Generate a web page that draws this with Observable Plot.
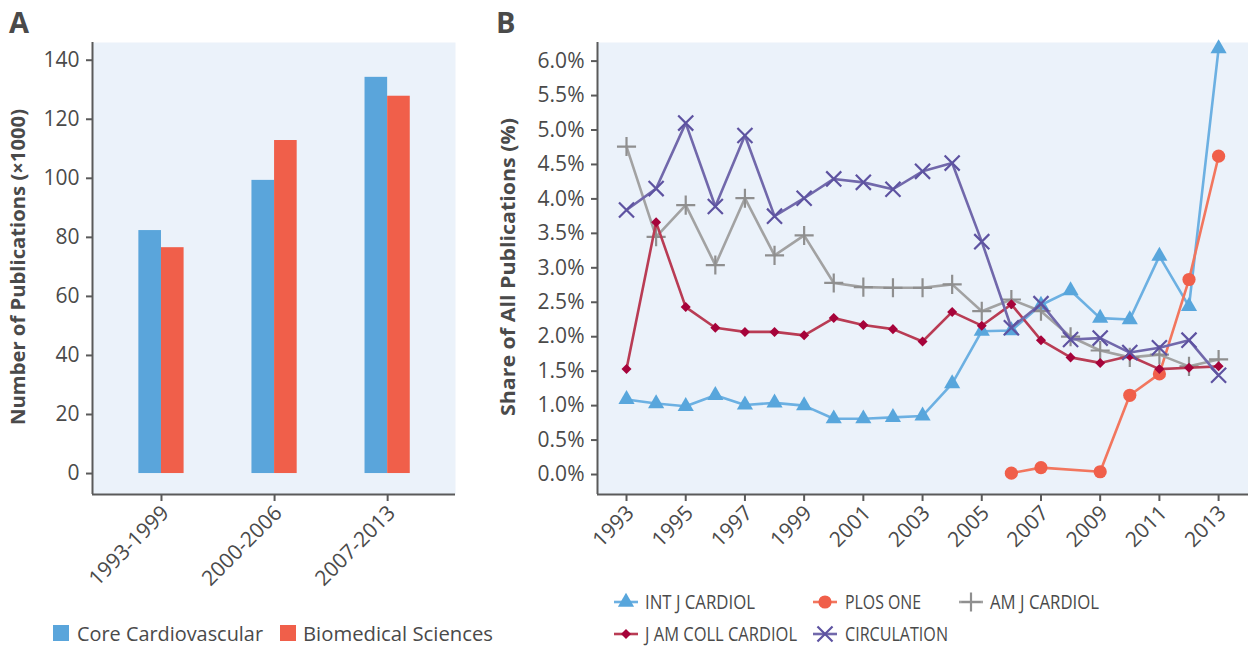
<!DOCTYPE html>
<html>
<head>
<meta charset="utf-8">
<script src="https://cdn.jsdelivr.net/npm/d3@7"></script>
<script src="https://cdn.jsdelivr.net/npm/@observablehq/plot@0.6"></script>
<style>
  body { margin: 0; background: #fff; }
  #wrap { position: relative; width: 1248px; height: 647px; overflow: hidden; font-family: "Open Sans", sans-serif; }
  #panelA, #panelB, #overlay { position: absolute; top: 0; }
  #panelA { left: 0; }
  #panelB { left: 490px; }
  #overlay { left: 0; pointer-events: none; }
</style>
</head>
<body>
<div id="wrap">
  <div id="panelA"></div>
  <div id="panelB"></div>
  <div id="overlay"></div>
</div>
<script>
// ---------- Panel A data ----------
const periods = ["1993-1999", "2000-2006", "2007-2013"];
const coreCardiovascular = [82.3, 99.3, 134.2];
const biomedicalSciences = [76.5, 112.8, 127.8];
const barSeries = ["Core Cardiovascular", "Biomedical Sciences"];
const barColors = ["#5AA5DB", "#F05F4A"];
const ticksA = [0, 20, 40, 60, 80, 100, 120, 140];

// ---------- Panel B data ----------
const years = [1993, 1994, 1995, 1996, 1997, 1998, 1999, 2000, 2001, 2002, 2003,
               2004, 2005, 2006, 2007, 2008, 2009, 2010, 2011, 2012, 2013];
const intJCardiol    = [1.09, 1.03, 0.99, 1.15, 1.01, 1.04, 1.00, 0.81, 0.81, 0.83, 0.85,
                        1.32, 2.08, 2.09, 2.46, 2.67, 2.27, 2.25, 3.17, 2.44, 6.18];
const plosOne        = [null, null, null, null, null, null, null, null, null, null, null,
                        null, null, 0.02, 0.10, null, 0.04, 1.15, 1.46, 2.83, 4.62];
const amJCardiol     = [4.76, 3.45, 3.91, 3.04, 4.01, 3.18, 3.47, 2.78, 2.72, 2.71, 2.71,
                        2.76, 2.37, 2.54, 2.37, 2.00, 1.80, 1.70, 1.74, 1.57, 1.67];
const jAmCollCardiol = [1.53, 3.66, 2.43, 2.13, 2.07, 2.07, 2.02, 2.27, 2.17, 2.11, 1.93,
                        2.36, 2.16, 2.47, 1.95, 1.70, 1.62, 1.72, 1.53, 1.55, 1.57];
const circulation    = [3.84, 4.15, 5.10, 3.89, 4.92, 3.75, 4.01, 4.29, 4.24, 4.14, 4.40,
                        4.52, 3.38, 2.13, 2.48, 1.96, 1.98, 1.77, 1.84, 1.95, 1.44];
const ticksBy = [0, 0.5, 1, 1.5, 2, 2.5, 3, 3.5, 4, 4.5, 5, 5.5, 6];
const ticksBx = [1993, 1995, 1997, 1999, 2001, 2003, 2005, 2007, 2009, 2011, 2013];

const journals = [
  {name: "INT J CARDIOL",     values: intJCardiol,    symbol: "triangle", r: 6,   fill: "#58A6DC", line: "#6CB0E2", strokeSym: false},
  {name: "PLOS ONE",          values: plosOne,        symbol: "circle",   r: 6.6, fill: "#F05F4A", line: "#F2765E", strokeSym: false},
  {name: "AM J CARDIOL",      values: amJCardiol,     symbol: "plus",     r: 6.2, fill: "#8F8F8F", line: "#A2A2A2", strokeSym: true},
  {name: "J AM COLL CARDIOL", values: jAmCollCardiol, symbol: "square",   r: 4,   fill: "#A6033A", line: "#B93C54", strokeSym: false, rotate: 45},
  {name: "CIRCULATION",       values: circulation,    symbol: "times",    r: 6.9, fill: "#5E53A1", line: "#7168AB", strokeSym: true}
];

const textColor = "#4A4A4A";
const axisColor = "#5A5A5A";
const bg = "#EBF2FA";

// shared bottom-axis helper: tick marks, then rotated labels nudged like the reference
function bottomAxis(ticks, fmt) {
  return [
    Plot.axisX({ticks, tickFormat: () => "", tickSize: 7, strokeWidth: 2, stroke: axisColor, label: null}),
    Plot.axisX({ticks, tickFormat: fmt, tickSize: 0, tickPadding: 11, tickRotate: -45, dx: 4, dy: 4, label: null, fill: textColor})
  ];
}

// ---------- Panel A ----------
const barRows = periods.flatMap((p, i) => [
  {i, period: p, series: barSeries[0], value: coreCardiovascular[i]},
  {i, period: p, series: barSeries[1], value: biomedicalSciences[i]}
]);
const xDomA = [-0.61, 2.6];
const yDomA = [-7.1, 146];
const barW = 0.2;

const plotA = Plot.plot({
  width: 480, height: 585,
  marginLeft: 92, marginRight: 25, marginTop: 42, marginBottom: 91,
  style: {fontFamily: "Open Sans, sans-serif", fontSize: "21px", color: textColor, background: "transparent", overflow: "visible"},
  x: {domain: xDomA},
  y: {domain: yDomA},
  color: {domain: barSeries, range: barColors},
  marks: [
    Plot.frame({fill: bg, stroke: null}),
    Plot.rectY(barRows, {
      x1: d => d.series === barSeries[0] ? d.i - barW : d.i,
      x2: d => d.series === barSeries[0] ? d.i : d.i + barW,
      y1: 0, y2: "value", fill: "series"
    }),
    Plot.ruleX([xDomA[0]], {stroke: axisColor, strokeWidth: 2}),
    Plot.ruleY([yDomA[0]], {stroke: axisColor, strokeWidth: 2}),
    Plot.axisY({ticks: ticksA, tickSize: 6, tickPadding: 7, strokeWidth: 2, stroke: axisColor, label: null, fill: textColor}),
    ...bottomAxis([0, 1, 2], i => periods[i])
  ]
});
document.getElementById("panelA").appendChild(plotA);

// ---------- Panel B ----------
const xDomB = [1992.02, 2014.01];
const yDomB = [-0.29, 6.27];
const marksB = [
  Plot.frame({fill: bg, stroke: null}),
  Plot.ruleX([xDomB[0]], {stroke: axisColor, strokeWidth: 2}),
  Plot.ruleY([yDomB[0]], {stroke: axisColor, strokeWidth: 2}),
  Plot.axisY({ticks: ticksBy, tickFormat: d => d.toFixed(1) + "%", tickSize: 6, tickPadding: 7, strokeWidth: 2, stroke: axisColor, label: null, fill: textColor}),
  ...bottomAxis(ticksBx, d => String(d))
];
for (const j of journals) {
  const rows = years.map((y, k) => ({year: y, value: j.values[k]})).filter(d => d.value != null);
  marksB.push(Plot.line(rows, {x: "year", y: "value", stroke: j.line, strokeWidth: 2.6}));
  const dotOpts = {x: "year", y: "value", symbol: () => j.symbol, r: j.r};
  if (j.strokeSym) { dotOpts.stroke = j.fill; dotOpts.strokeWidth = 2.2; dotOpts.fill = "none"; }
  else { dotOpts.fill = j.fill; dotOpts.stroke = "none"; }
  if (j.rotate) dotOpts.rotate = j.rotate;
  marksB.push(Plot.dot(rows, dotOpts));
}
const plotB = Plot.plot({
  width: 758, height: 585,
  marginLeft: 107, marginRight: 0, marginTop: 42, marginBottom: 91,
  style: {fontFamily: "Open Sans, sans-serif", fontSize: "21px", color: textColor, background: "transparent", overflow: "visible"},
  x: {domain: xDomB},
  y: {domain: yDomB},
  symbol: {type: "identity"},
  marks: marksB
});
document.getElementById("panelB").appendChild(plotB);

// ---------- Overlay: panel letters, axis titles, legends ----------
const svg = d3.select("#overlay").append("svg")
  .attr("width", 1248).attr("height", 647)
  .style("font-family", "Open Sans, sans-serif");

svg.append("text").attr("x", 9).attr("y", 33).attr("font-size", 29).attr("font-weight", 700).attr("fill", textColor).text("A");
svg.append("text").attr("x", 496).attr("y", 33).attr("font-size", 29).attr("font-weight", 700).attr("fill", textColor).text("B");

svg.append("text").attr("transform", "translate(24.5,267) rotate(-90)").attr("text-anchor", "middle")
  .attr("font-size", 19.5).attr("font-weight", 700).attr("fill", textColor)
  .attr("textLength", 316).attr("lengthAdjust", "spacingAndGlyphs").text("Number of Publications (×1000)");
svg.append("text").attr("transform", "translate(515,267) rotate(-90)").attr("text-anchor", "middle")
  .attr("font-size", 19.5).attr("font-weight", 700).attr("fill", textColor)
  .attr("textLength", 298).attr("lengthAdjust", "spacingAndGlyphs").text("Share of All Publications (%)");

// Legend A
const legA = [{x: 53, tx: 77, w: 186}, {x: 280, tx: 303, w: 190}];
barSeries.forEach((s, k) => {
  svg.append("rect").attr("x", legA[k].x).attr("y", 625).attr("width", 16).attr("height", 16).attr("fill", barColors[k]);
  svg.append("text").attr("x", legA[k].tx).attr("y", 641).attr("font-size", 20).attr("fill", textColor)
    .attr("textLength", legA[k].w).attr("lengthAdjust", "spacingAndGlyphs").text(s);
});

// Legend B
const legB = [
  {x: 614, y: 602, tx: 645, w: 110},
  {x: 813, y: 602, tx: 845, w: 76},
  {x: 959, y: 602, tx: 990, w: 109},
  {x: 614, y: 634, tx: 645, w: 152},
  {x: 813, y: 634, tx: 845, w: 103}
];
const symMap = {triangle: d3.symbolTriangle, circle: d3.symbolCircle, plus: d3.symbolPlus, square: d3.symbolSquare, times: d3.symbolTimes};
journals.forEach((j, k) => {
  const p = legB[k];
  const g = svg.append("g");
  g.append("line").attr("x1", p.x).attr("x2", p.x + 24).attr("y1", p.y).attr("y2", p.y)
    .attr("stroke", j.line).attr("stroke-width", 2.6);
  const path = d3.symbol(symMap[j.symbol], Math.PI * j.r * j.r)();
  const sym = g.append("path").attr("d", path)
    .attr("transform", `translate(${p.x + 12},${p.y})` + (j.rotate ? ` rotate(${j.rotate})` : ""));
  if (j.strokeSym) sym.attr("fill", "none").attr("stroke", j.fill).attr("stroke-width", 2.2);
  else sym.attr("fill", j.fill);
  g.append("text").attr("x", p.tx).attr("y", p.y + 7).attr("font-size", 20).attr("fill", textColor)
    .attr("textLength", p.w).attr("lengthAdjust", "spacingAndGlyphs").text(j.name);
});
</script>
</body>
</html>
